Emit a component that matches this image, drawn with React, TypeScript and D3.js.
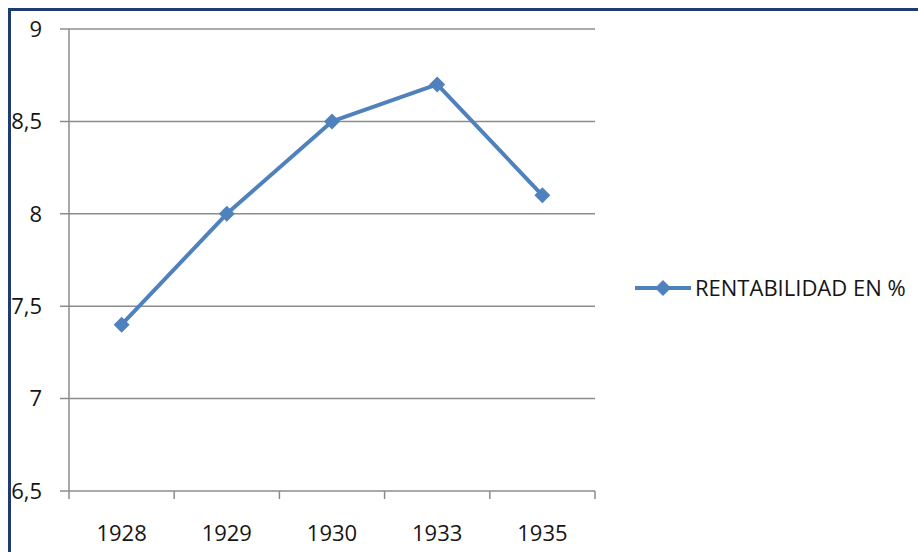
import React from "react";
import * as d3 from "d3";

const categories = ["1928", "1929", "1930", "1933", "1935"];
const values = [7.4, 8.0, 8.5, 8.7, 8.1];
const yTicks = [6.5, 7, 7.5, 8, 8.5, 9];
const seriesName = "RENTABILIDAD EN %";

export default function App() {
  const W = 918, H = 552;
  const left = 69, right = 595, top = 29, bottom = 491;
  const x = d3.scaleBand<string>().domain(categories).range([left, right]).padding(0);
  const y = d3.scaleLinear().domain([6.5, 9]).range([bottom, top]);
  const line = d3.line<number>()
    .x((_, i) => (x(categories[i]) as number) + x.bandwidth() / 2)
    .y((d) => y(d));
  const font = "'Open Sans', 'Noto Sans', sans-serif";
  const fs = 22;
  const blue = "#4F81BD";
  const grid = "#8c8c8c";
  const txt = "#151515";
  const diamond = (cx: number, cy: number, r: number) =>
    `M${cx},${cy - r}L${cx + r},${cy}L${cx},${cy + r}L${cx - r},${cy}Z`;
  const boundaries = categories.map((c) => x(c) as number).concat([right]);
  return (
    <svg width={W} height={H} style={{ position: "absolute", left: 0, top: 0, background: "#fff" }}>
      <rect x={0} y={0} width={W} height={H} fill="#fff" />
      <line x1={8} y1={9.5} x2={W} y2={9.5} stroke="#1f3b73" strokeWidth={3} />
      <line x1={9.5} y1={8} x2={9.5} y2={H} stroke="#1f3b73" strokeWidth={3} />
      {yTicks.map((t) => (
        <g key={t}>
          <line x1={60} x2={right} y1={y(t)} y2={y(t)} stroke={grid} strokeWidth={1.5} />
          <text x={42} y={y(t)} dy="0.35em" textAnchor="end" fontFamily={font} fontSize={fs} fill={txt}>
            {String(t).replace(".", ",")}
          </text>
        </g>
      ))}
      <line x1={left} x2={left} y1={top} y2={bottom} stroke={grid} strokeWidth={1.5} />
      {boundaries.map((bx, i) => (
        <line key={i} x1={bx} x2={bx} y1={bottom} y2={bottom + 8} stroke={grid} strokeWidth={1.5} />
      ))}
      {categories.map((c) => (
        <text key={c} x={(x(c) as number) + x.bandwidth() / 2} y={533} dy="0.35em" textAnchor="middle"
          fontFamily={font} fontSize={fs} fill={txt}>{c}</text>
      ))}
      <path d={line(values) || ""} fill="none" stroke={blue} strokeWidth={4} strokeLinejoin="round" />
      {values.map((v, i) => (
        <path key={i} d={diamond((x(categories[i]) as number) + x.bandwidth() / 2, y(v), 8)} fill={blue} />
      ))}
      <line x1={635} x2={691} y1={288} y2={288} stroke={blue} strokeWidth={4} />
      <path d={diamond(663, 288, 8)} fill={blue} />
      <text x={695} y={288} dy="0.35em" fontFamily={font} fontSize={fs} fill={txt}>{seriesName}</text>
    </svg>
  );
}
